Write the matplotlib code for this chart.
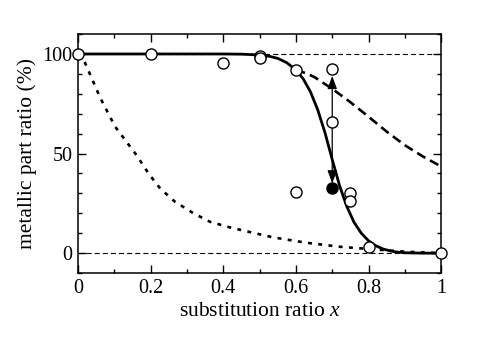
import matplotlib
matplotlib.use("Agg")
import matplotlib.pyplot as plt
from matplotlib.ticker import MultipleLocator

# open-circle data
x_open = [0.0, 0.2, 0.4, 0.5, 0.5, 0.6, 0.7, 0.7, 0.6, 0.75, 0.75, 0.8, 1.0]
y_open = [100, 100, 95.3, 99, 98, 92, 92.5, 65.7, 30.5, 30, 26.3, 3, 0]
# filled point
x_fill = [0.7]
y_fill = [32.5]

# solid fitted curve
x_solid = [0.0, 0.1, 0.2, 0.3, 0.4, 0.45, 0.5, 0.525, 0.55, 0.575, 0.6, 0.62, 0.64, 0.66,
           0.68, 0.70, 0.72, 0.74, 0.76, 0.78, 0.80, 0.82, 0.84, 0.86, 0.88, 0.90, 0.95, 1.0]
y_solid = [100, 100, 100, 100, 100, 99.9, 99.5, 98.9, 97.8, 95.6, 92, 87.5, 81, 72,
           60.5, 47, 34, 23.5, 15.5, 10, 6.2, 3.7, 2.1, 1.1, 0.5, 0.2, 0.0, 0.0]

# dashed curve
x_dash = [0.6, 0.625, 0.65, 0.675, 0.7, 0.75, 0.8, 0.85, 0.9, 0.95, 1.0]
y_dash = [92, 90.5, 88.5, 85.5, 82.5, 75.8, 68.5, 61, 54.2, 48.5, 43.5]

# dotted curve
x_dot = [0.0, 0.019, 0.061, 0.102, 0.161, 0.194, 0.226, 0.267, 0.318, 0.364, 0.419,
         0.478, 0.538, 0.63, 0.722, 0.813, 0.905, 1.0]
y_dot = [100, 95.6, 78, 63.5, 49.2, 40, 32.5, 25.8, 20, 15.7, 12.9,
         10.4, 7.9, 5.2, 3.2, 1.9, 0.7, 0.0]

# arrow
arrow_x = 0.7
arrow_lo = 35
arrow_hi = 89

plt.rcParams['font.family'] = ['Liberation Serif', 'DejaVu Serif']
plt.rcParams['mathtext.fontset'] = 'custom'
plt.rcParams['mathtext.it'] = 'Liberation Serif:italic'
plt.rcParams['mathtext.rm'] = 'Liberation Serif'

fig = plt.figure(figsize=(4.79, 3.51), dpi=100)
ax = fig.add_axes([0.163, 0.222, 0.758, 0.681])

ax.axhline(100, color='k', lw=0.8, ls=(0, (4.5, 2.8)))
ax.axhline(0, color='k', lw=0.8, ls=(0, (4.5, 2.8)))

ax.plot(x_dot, y_dot, color='k', lw=1.9, ls=(0, (1.5, 2.4)))
ax.plot(x_dash, y_dash, color='k', lw=1.9, ls=(0, (3.6, 2.0)))
ax.plot(x_solid, y_solid, color='k', lw=2.0)

ax.annotate('', xy=(arrow_x, arrow_hi), xytext=(arrow_x, arrow_lo),
            arrowprops=dict(arrowstyle='<|-|>,head_length=0.6,head_width=0.22', lw=0.9, color='k',
                            mutation_scale=13, shrinkA=0, shrinkB=0))

ax.plot(x_open, y_open, 'o', mfc='white', mec='k', mew=1.0, ms=8, clip_on=False, zorder=5)
ax.plot(x_fill, y_fill, 'o', mfc='k', mec='k', ms=8, zorder=5)

ax.set_xlim(0, 1)
ax.set_ylim(-10, 110)
ax.xaxis.set_minor_locator(MultipleLocator(0.1))
ax.yaxis.set_minor_locator(MultipleLocator(10))
ax.set_xticks([0, 0.2, 0.4, 0.6, 0.8, 1.0])
ax.set_xticklabels(['0', '0.2', '0.4', '0.6', '0.8', '1'])
ax.set_yticks([0, 50, 100])
ax.set_yticklabels(['0', '50', '100'])
ax.tick_params(which='both', direction='in', top=True, right=True, labelsize=14.5, width=1.0)
ax.tick_params(which='major', length=6, pad=4)
ax.tick_params(which='minor', length=3)
for s in ax.spines.values():
    s.set_linewidth(1.1)

ax.set_xlabel('substitution ratio $x$', fontsize=15.5, labelpad=3)
ax.set_ylabel('metallic part ratio (%)', fontsize=15.5, labelpad=4)

fig.savefig('out.png', dpi=100)
